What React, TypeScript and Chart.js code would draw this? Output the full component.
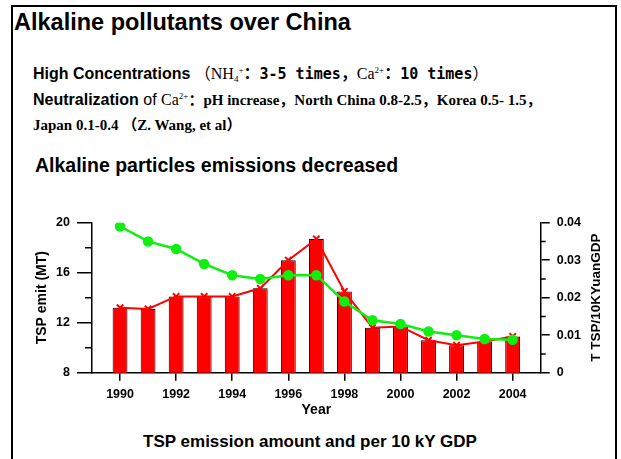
import React, { useEffect, useRef } from 'react';
import { Chart, registerables } from 'chart.js';

Chart.register(...registerables);

// ---- data ----
const years = [1990, 1991, 1992, 1993, 1994, 1995, 1996, 1997, 1998, 1999, 2000, 2001, 2002, 2003, 2004];
const tspEmit = [13.2, 13.1, 14.1, 14.1, 14.1, 14.75, 17.0, 18.7, 14.5, 11.6, 11.7, 10.6, 10.2, 10.5, 10.9];
const tspPerGdp = [0.039, 0.035, 0.033, 0.029, 0.026, 0.025, 0.026, 0.026, 0.019, 0.014, 0.013, 0.011, 0.01, 0.009, 0.0088];
const xTickYears = [1990, 1992, 1994, 1996, 1998, 2000, 2002, 2004];
const leftMajorTicks = [8, 12, 16, 20];
const leftMinorTicks = [10, 14, 18];
const rightMajorTicks = [0, 0.01, 0.02, 0.03, 0.04];
const rightMinorTicks = [0.005, 0.015, 0.025, 0.035];

const RED = '#FF0000';
const GREEN = '#11EE11';
const SANS = '"Liberation Sans", Arial, sans-serif';
const SERIF = '"Liberation Serif", "Times New Roman", "Noto Sans CJK SC", serif';
const HEI = '"DejaVu Sans Mono", "Liberation Mono", monospace';
const CJK = '"Noto Sans CJK SC", sans-serif';

const extrasPlugin = {
  id: 'extras',
  afterDraw(chart: any) {
    const ctx = chart.ctx;
    const y = chart.scales.y;
    const y1 = chart.scales.y1;
    ctx.save();
    ctx.strokeStyle = '#000';
    ctx.lineWidth = 1.5;
    ctx.beginPath();
    leftMinorTicks.forEach((v) => {
      const py = y.getPixelForValue(v);
      ctx.moveTo(y.right - 7, py);
      ctx.lineTo(y.right, py);
    });
    rightMinorTicks.forEach((v) => {
      const py = y1.getPixelForValue(v);
      ctx.moveTo(y1.left, py);
      ctx.lineTo(y1.left + 5, py);
    });
    ctx.stroke();
    // right axis title, reading bottom-to-top
    ctx.translate(y1.left + 56, (y1.top + y1.bottom) / 2);
    ctx.rotate(-Math.PI / 2);
    ctx.font = 'bold 13.5px ' + SANS;
    ctx.fillStyle = '#000';
    ctx.textAlign = 'center';
    ctx.textBaseline = 'middle';
    ctx.fillText('T TSP/10KYuanGDP', 0, 0);
    ctx.restore();
  },
};

function ChartCanvas() {
  const ref = useRef<HTMLCanvasElement>(null);
  useEffect(() => {
    if (!ref.current) return;
    const tickFont = { family: SANS, size: 12.5, weight: 'bold' as const };
    const chart = new Chart(ref.current, {
      type: 'bar',
      data: {
        datasets: [
          {
            type: 'line',
            label: 'TSP/10KYuanGDP',
            data: years.map((x, i) => ({ x, y: tspPerGdp[i] })),
            yAxisID: 'y1',
            borderColor: GREEN,
            backgroundColor: GREEN,
            pointBackgroundColor: GREEN,
            pointBorderColor: GREEN,
            borderWidth: 2.5,
            pointRadius: 4,
            pointStyle: 'circle',
            order: 0,
          } as any,
          {
            type: 'line',
            label: 'TSP emit line',
            data: years.map((x, i) => ({ x, y: tspEmit[i] })),
            yAxisID: 'y',
            borderColor: RED,
            backgroundColor: RED,
            pointBorderColor: RED,
            borderWidth: 2,
            pointRadius: 4.5,
            pointBorderWidth: 2,
            pointStyle: 'crossRot',
            order: 1,
          } as any,
          {
            type: 'bar',
            label: 'TSP emit',
            data: years.map((x, i) => ({ x, y: tspEmit[i] })),
            yAxisID: 'y',
            backgroundColor: RED,
            borderColor: '#000',
            borderWidth: 1,
            barPercentage: 0.53,
            categoryPercentage: 1,
            order: 2,
          } as any,
        ],
      },
      options: {
        animation: false,
        responsive: false,
        maintainAspectRatio: false,
        layout: { padding: { left: 0, right: 0, top: 222.7, bottom: 0 } },
        plugins: { legend: { display: false }, tooltip: { enabled: false }, title: { display: false } },
        scales: {
          x: {
            type: 'linear',
            min: 1989,
            max: 2005,
            offset: false,
            afterBuildTicks: (s: any) => { s.ticks = xTickYears.map((v) => ({ value: v })); },
            afterFit: (s: any) => { s.height = 86.3; },
            ticks: { font: tickFont, color: '#000', padding: 6, maxRotation: 0, autoSkip: false, callback: (v: any) => String(v) },
            grid: { display: true, drawOnChartArea: false, tickLength: 8, color: '#000', lineWidth: 1.5, offset: false },
            border: { display: true, color: '#000', width: 1.5 },
            title: { display: true, text: 'Year', color: '#000', font: { family: SANS, size: 14, weight: 'bold' }, padding: { top: 0, bottom: 40.6 } },
          },
          y: {
            type: 'linear',
            position: 'left',
            min: 8,
            max: 20,
            afterBuildTicks: (s: any) => { s.ticks = leftMajorTicks.map((v) => ({ value: v })); },
            afterFit: (s: any) => { s.width = 92; },
            ticks: { font: tickFont, color: '#000', padding: 7, callback: (v: any) => String(v) },
            grid: { display: true, drawOnChartArea: false, tickLength: 15, color: '#000', lineWidth: 1.5 },
            border: { display: true, color: '#000', width: 1.5 },
            title: { display: true, text: 'TSP emit (MT)', color: '#000', font: { family: SANS, size: 14, weight: 'bold' }, padding: { top: 33.3, bottom: 0 } },
          },
          y1: {
            type: 'linear',
            position: 'right',
            min: 0,
            max: 0.04,
            afterBuildTicks: (s: any) => { s.ticks = rightMajorTicks.map((v) => ({ value: v })); },
            afterFit: (s: any) => { s.width = 80.3; },
            ticks: { font: tickFont, color: '#000', padding: 7, callback: (v: any) => String(v) },
            grid: { display: true, drawOnChartArea: false, tickLength: 9, color: '#000', lineWidth: 1.5 },
            border: { display: true, color: '#000', width: 1.5 },
            title: { display: false },
          },
        },
      },
      plugins: [extrasPlugin],
    });
    return () => chart.destroy();
  }, []);
  return <canvas ref={ref} width={621} height={459} style={{ position: 'absolute', left: 0, top: 0, width: 621, height: 459 }} />;
}

export default function App() {
  const abs = (o: React.CSSProperties): React.CSSProperties => ({ position: 'absolute', whiteSpace: 'nowrap', color: '#000', ...o });
  const lh0: React.CSSProperties = { lineHeight: 0 };
  const sup: React.CSSProperties = { fontSize: 9, verticalAlign: '6px', lineHeight: 0 };
  const sub: React.CSSProperties = { fontSize: 9, verticalAlign: '-3px', lineHeight: 0 };
  return (
    <div style={{ position: 'fixed', left: 0, top: 0, width: 621, height: 459, background: '#fff', overflow: 'hidden', fontFamily: SANS }}>
      <div style={{ position: 'absolute', left: 11, top: 5, width: 602, height: 480, border: '2px solid #000' }} />
      <div style={abs({ left: 14, top: 11.1, fontSize: 23.5, lineHeight: '23.5px', fontWeight: 'bold', fontFamily: SANS })}>
        Alkaline pollutants over China
      </div>
      <div style={abs({ left: 33, top: 65.5, fontSize: 16, lineHeight: '16px', fontWeight: 'bold', fontFamily: SANS })}>
        <span style={lh0}>High Concentrations </span>
        <span style={{ ...lh0, fontFamily: CJK, fontSize: 16, fontWeight: 'normal' }}>（</span>
        <span style={{ ...lh0, fontFamily: SERIF, fontWeight: 'normal', fontSize: 16 }}>NH<sub style={sub}>4</sub><sup style={sup}>+</sup></span>
        <span style={{ ...lh0, fontFamily: CJK, fontSize: 16 }}>：</span>
        <span style={{ ...lh0, fontFamily: HEI, fontSize: 15 }}>3-5 times</span>
        <span style={{ ...lh0, fontFamily: CJK, fontSize: 16 }}>，</span>
        <span style={{ ...lh0, fontFamily: SERIF, fontWeight: 'normal', fontSize: 16 }}>Ca<sup style={sup}>2+</sup></span>
        <span style={{ ...lh0, fontFamily: CJK, fontSize: 16 }}>：</span>
        <span style={{ ...lh0, fontFamily: HEI, fontSize: 15 }}>10 times</span>
        <span style={{ ...lh0, fontFamily: CJK, fontSize: 16, fontWeight: 'normal' }}>）</span>
      </div>
      <div style={abs({ left: 33, top: 91.5, fontSize: 16, lineHeight: '16px', fontWeight: 'bold', fontFamily: SANS })}>
        <span style={lh0}>Neutralization</span>
        <span style={{ ...lh0, fontWeight: 'normal' }}> of </span>
        <span style={{ ...lh0, fontFamily: SERIF, fontWeight: 'normal' }}>Ca<sup style={sup}>2+</sup></span>
        <span style={{ ...lh0, fontFamily: SERIF, fontSize: 15 }}>：pH increase，North China 0.8-2.5，Korea 0.5- 1.5，</span>
      </div>
      <div style={abs({ left: 33, top: 118, fontSize: 15, lineHeight: '15px', fontWeight: 'bold', fontFamily: SERIF })}>
        <span style={lh0}>Japan 0.1-0.4 （Z. Wang, et al）</span>
      </div>
      <div style={abs({ left: 35, top: 155.5, fontSize: 19.5, lineHeight: '19.5px', fontWeight: 'bold', fontFamily: SANS })}>
        Alkaline particles emissions decreased
      </div>
      <div style={abs({ left: 0, width: 620, textAlign: 'center', top: 433, fontSize: 17, lineHeight: '17px', fontWeight: 'bold', fontFamily: SANS })}>
        TSP emission amount and per 10 kY GDP
      </div>
      <ChartCanvas />
    </div>
  );
}
